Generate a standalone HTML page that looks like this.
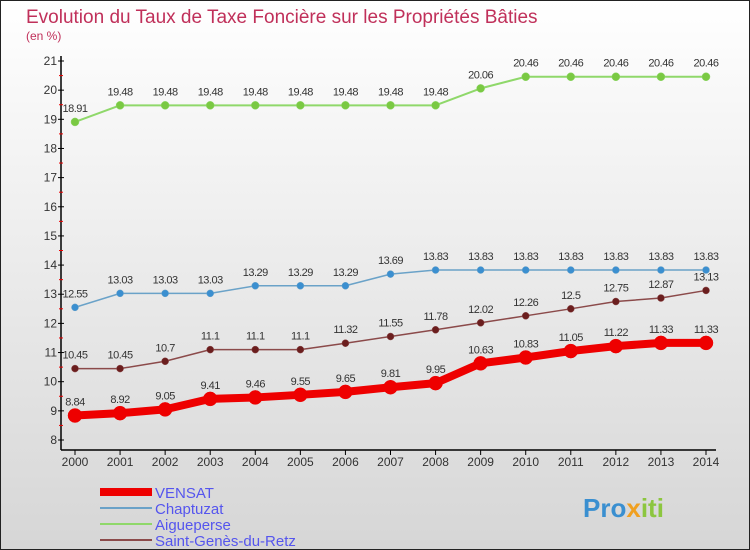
<!DOCTYPE html>
<html><head><meta charset="utf-8"><style>
body{margin:0;}
svg{display:block;font-family:"Liberation Sans",sans-serif;}
</style></head><body>
<svg id="c" width="750" height="550" xmlns="http://www.w3.org/2000/svg">
<defs><linearGradient id="bg" x1="0" y1="0" x2="0" y2="1"><stop offset="0" stop-color="#ffffff"/><stop offset="1" stop-color="#d6d6d6"/></linearGradient></defs>
<rect x="0.5" y="0.5" width="749" height="549" fill="url(#bg)" stroke="#222"/>
<text x="26" y="23" font-size="19" fill="#c0305a">Evolution du Taux de Taxe Foncière sur les Propriétés Bâties</text>
<text x="26" y="40" font-size="12" fill="#c0305a">(en %)</text>
<g id="axes"></g><g id="series"></g>
<g>
<line x1="100" y1="492" x2="152" y2="492" stroke="#ee0000" stroke-width="8"/>
<text x="155" y="498" font-size="15" fill="#5555ee">VENSAT</text>
<line x1="100" y1="508" x2="152" y2="508" stroke="#6aa2c8" stroke-width="2"/>
<text x="155" y="514" font-size="15" fill="#5555ee">Chaptuzat</text>
<line x1="100" y1="524" x2="152" y2="524" stroke="#8fd86a" stroke-width="2"/>
<text x="155" y="530" font-size="15" fill="#5555ee">Aigueperse</text>
<line x1="100" y1="540" x2="152" y2="540" stroke="#8b4a4a" stroke-width="2"/>
<text x="155" y="546" font-size="15" fill="#5555ee">Saint-Genès-du-Retz</text>
</g>
<text x="583" y="517" font-size="26" font-weight="bold" fill="#3a8fd0">Pro<tspan fill="#f0a020">x</tspan><tspan fill="#8cc63f">iti</tspan></text>
</svg>
<script>
const years=[2000,2001,2002,2003,2004,2005,2006,2007,2008,2009,2010,2011,2012,2013,2014];
const vensat=[8.84,8.92,9.05,9.41,9.46,9.55,9.65,9.81,9.95,10.63,10.83,11.05,11.22,11.33,11.33];
const chaptuzat=[12.55,13.03,13.03,13.03,13.29,13.29,13.29,13.69,13.83,13.83,13.83,13.83,13.83,13.83,13.83];
const aigueperse=[18.91,19.48,19.48,19.48,19.48,19.48,19.48,19.48,19.48,20.06,20.46,20.46,20.46,20.46,20.46];
const saintGenes=[10.45,10.45,10.7,11.1,11.1,11.1,11.32,11.55,11.78,12.02,12.26,12.5,12.75,12.87,13.13];
const yTicks=[8,9,10,11,12,13,14,15,16,17,18,19,20,21];
const NS="http://www.w3.org/2000/svg";
const xS=i=>75+i*(706-75)/(years.length-1);
const yS=v=>440-(v-8)*(440-61)/13;
function mk(t,a,p){const e=document.createElementNS(NS,t);for(const k in a)e.setAttribute(k,a[k]);p.appendChild(e);return e;}
const ax=document.getElementById('axes'),sg=document.getElementById('series');
let e=mk('line',{x1:61,y1:56,x2:61,y2:450,stroke:'#000','stroke-width':1.5},ax);


e=mk('line',{x1:61,y1:450,x2:716,y2:450,stroke:'#000','stroke-width':1.5},ax);


yTicks.forEach((v,i)=>{const y=yS(v);mk('line',{x1:58,y1:y,x2:64,y2:y,stroke:'#000'},ax);
if(i<yTicks.length-1)mk('line',{x1:59,y1:yS(v+0.5),x2:63,y2:yS(v+0.5),stroke:'#e00'},ax);
const t=mk('text',{x:57,y:y+4,'font-size':12,'text-anchor':'end',fill:'#333'},ax);t.textContent=v;

});
years.forEach((yr,i)=>{const x=xS(i);mk('line',{x1:x,y1:450,x2:x,y2:455,stroke:'#000'},ax);
const t=mk('text',{x:x,y:466,'font-size':12,'text-anchor':'middle',fill:'#333'},ax);t.textContent=yr;

});
function series(d,col,dot,w,r,name,fs){
const g=mk('g',{},sg);


mk('polyline',{points:d.map((v,i)=>xS(i)+','+yS(v)).join(' '),fill:'none',stroke:col,'stroke-width':w,'stroke-linejoin':'round'},g);
d.forEach((v,i)=>{const c=mk('circle',{cx:xS(i),cy:yS(v),r:r,fill:dot,stroke:col,'stroke-width':0.5},g);


const t=mk('text',{x:xS(i),y:yS(v)-10,'font-size':11,'text-anchor':'middle',fill:'#333','letter-spacing':'-0.5'},g);t.textContent=v;

});}
series(aigueperse,'#8fd86a','#7ac943',2,4,'aigueperse');
series(chaptuzat,'#6aa2c8','#3b8fd0',1.5,3.5,'chaptuzat');
series(saintGenes,'#8b4a4a','#6b1e1e',1.5,3.5,'saint-genes');
series(vensat,'#ee0000','#ee0000',8,7,'vensat');
</script>
</body></html>
